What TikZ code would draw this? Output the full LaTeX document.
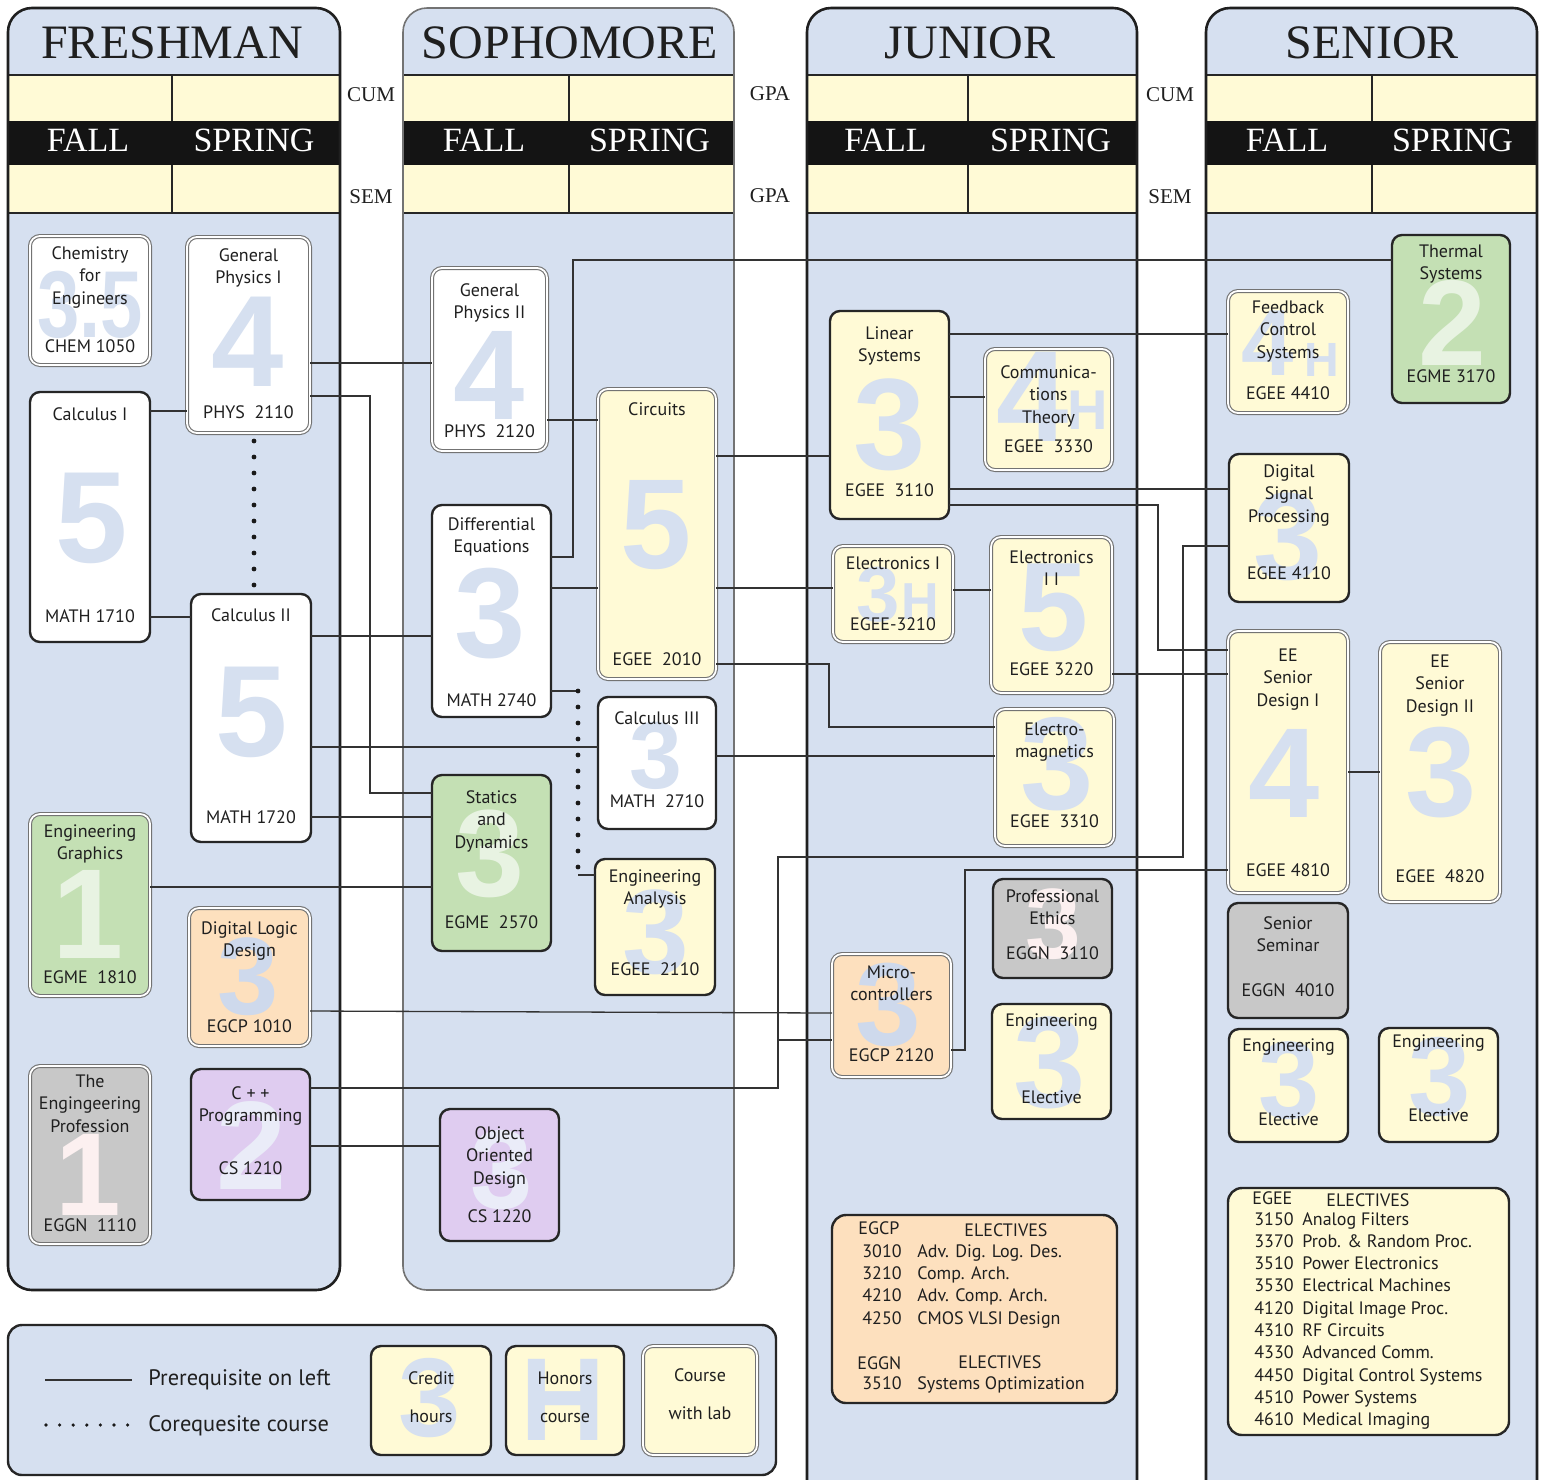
\documentclass[tikz,border=0pt]{standalone}
\usepackage{fontspec}
\setmainfont{Liberation Serif}
\setsansfont{PT Sans}
\newfontfamily\numfont{Liberation Sans}
\usetikzlibrary{fit,calc}
\definecolor{cblue}{RGB}{214,224,240}
\definecolor{cyel}{RGB}{255,250,214}
\definecolor{cgreen}{RGB}{196,224,180}
\definecolor{corange}{RGB}{253,224,190}
\definecolor{cgray}{RGB}{200,200,200}
\definecolor{cpurple}{RGB}{223,204,240}
\definecolor{numgreen}{RGB}{232,243,226}
\definecolor{numpink}{RGB}{252,240,240}
\definecolor{numpurp}{RGB}{234,236,248}
\definecolor{numblueo}{RGB}{206,217,236}
\newcommand\crsfont{\sffamily\fontsize{9}{11.3}\selectfont}
\tikzset{
  sgl/.style={draw=black!85, line width=1.2pt, rounded corners=5pt, inner sep=0pt, outer sep=0pt},
  lab/.style={draw=black!55, line width=0.55pt, double=white, double distance=0.9pt, rounded corners=5pt, inner sep=0pt, outer sep=0pt},
  ttl/.style={font=\crsfont, align=center, inner sep=0pt, anchor=north, yshift=5pt, text=black!88},
  cd/.style={font=\crsfont, inner sep=0pt, anchor=base, yshift=-3pt, text=black!88},
  elt/.style={font=\crsfont, inner sep=0pt, anchor=base west, text=black!88},
  legt/.style={font=\sffamily\fontsize{11.2}{12.5}\selectfont, inner sep=0pt, anchor=base west, text=black!88},
  big/.style={inner sep=0pt, font=\numfont\bfseries\fontsize{#1}{#1}\selectfont},
  pre/.style={draw=black!80, line width=0.65pt},
  coreq/.style={draw=black!90, line width=2.4pt, line cap=round, dash pattern=on 0pt off 8pt},
  yhead/.style={font=\rmfamily\fontsize{24}{24}\selectfont, inner sep=0pt, anchor=base, text=black!88},
  semhead/.style={font=\rmfamily\fontsize{17}{17}\selectfont, inner sep=0pt, anchor=base, text=white},
  sidet/.style={font=\rmfamily\fontsize{10.5}{10.5}\selectfont, inner sep=0pt, anchor=base, text=black!88},
  yb/.style={draw=black!88, line width=1.3pt},
  yblight/.style={draw=black!55, line width=0.8pt},
}
\newcommand\yearpanel[8]{%
  \fill[cblue, rounded corners=12pt] (#2,8) rectangle (#3,#5);
  \fill[cyel] (#2,75) rectangle (#3,213);
  \fill[black!92] (#2,121) rectangle (#3,165);
  \draw[line width=1pt, black!85] (#2,75) -- (#3,75) (#2,213) -- (#3,213) (#4,75) -- (#4,121) (#4,165) -- (#4,213);
  \draw[#6, rounded corners=12pt] (#2,8) rectangle (#3,#5);
  \node[yhead] (#1title) at (#8,58) {#7};
  \node[semhead] (#1fall) at ({(#2+#4)/2-2},151) {FALL};
  \node[semhead] (#1spring) at ({(#4+#3)/2-2},151) {SPRING};
}
\newcommand\cbox[5]{\node[#4, fill=#5, fit={(#2)(#3)}] (#1) {};}
\newcommand\cnum[5]{\node[big=#3, text=#4] (#1n) at (#2) {#5};}
\newcommand\ctitle[3]{\node[ttl] (#1t) at (#1.center |- 0,#2) {\strut #3};}
\newcommand\ccode[3]{\node[cd] (#1c) at (#1.center |- 0,#2) {#3};}
\begin{document}
\begin{tikzpicture}[x=0.5pt,y=-0.5pt]
\useasboundingbox (0,0) rectangle (1541,1479);
\clip (0,0) rectangle (1541,1479);
\fill[white] (0,0) rectangle (1541,1479);

% year panels
\yearpanel{fr}{8}{340}{172}{1290}{yb}{FRESHMAN}{172}
\yearpanel{so}{403}{734}{569}{1290}{yblight}{SOPHOMORE}{570}
\yearpanel{ju}{807}{1137}{968}{1530}{yb}{JUNIOR}{970}
\yearpanel{se}{1206}{1537}{1372}{1530}{yb}{SENIOR}{1372}

\node[sidet] (cum1) at (371,101) {CUM};
\node[sidet] (sem1) at (371,203) {SEM};
\node[sidet] (gpa1) at (770,100) {GPA};
\node[sidet] (gpa2) at (770,202) {GPA};
\node[sidet] (cum2) at (1170,101) {CUM};
\node[sidet] (sem2) at (1170,203) {SEM};

% ---------- Freshman
\cbox{chem}{30,236}{150,365}{lab}{white}
\cnum{chem}{90,305}{47.5}{cblue}{\scalebox{.8}[1]{3.5}}
\ctitle{chem}{253}{Chemistry\\for\\Engineers}
\ccode{chem}{346}{CHEM 1050}

\cbox{phys1}{187,237}{310,433}{lab}{white}
\cnum{phys1}{248,342}{65}{cblue}{4}
\ctitle{phys1}{255}{General\\Physics I}
\ccode{phys1}{412}{PHYS\ \ 2110}

\cbox{calc1}{30,392}{150,642}{sgl}{white}
\cnum{calc1}{92,518}{65}{cblue}{5}
\ctitle{calc1}{414}{Calculus I}
\ccode{calc1}{616}{MATH 1710}

\cbox{calc2}{191,594}{311,842}{sgl}{white}
\cnum{calc2}{252,712}{65}{cblue}{5}
\ctitle{calc2}{615}{Calculus II}
\ccode{calc2}{817}{MATH 1720}

\cbox{graph}{30,814}{150,996}{lab}{cgreen}
\cnum{graph}{88,914}{64}{numgreen}{1}
\ctitle{graph}{831}{Engineering\\Graphics}
\ccode{graph}{977}{EGME\ \ 1810}

\cbox{dld}{189,908}{310,1046}{lab}{corange}
\cnum{dld}{248,977}{55}{numblueo}{3}
\ctitle{dld}{928}{Digital Logic\\Design}
\ccode{dld}{1026}{EGCP 1010}

\cbox{prof1}{30,1066}{150,1244}{lab}{cgray}
\cnum{prof1}{88,1175}{59}{numpink}{1}
\ctitle{prof1}{1081}{The\\Engingeering\\Profession}
\ccode{prof1}{1225}{EGGN\ \ 1110}

\cbox{cpp}{191,1069}{310,1200}{sgl}{cpurple}
\cnum{cpp}{252,1145}{63}{numpurp}{2}
\ctitle{cpp}{1093}{C + +\\Programming}
\ccode{cpp}{1168}{CS 1210}

% ---------- Sophomore
\cbox{phys2}{432,268}{547,451}{lab}{white}
\cnum{phys2}{489,375}{64}{cblue}{4}
\ctitle{phys2}{290}{General\\Physics II}
\ccode{phys2}{431}{PHYS\ \ 2120}

\cbox{diffeq}{432,505}{551,717}{sgl}{white}
\cnum{diffeq}{490,614}{64}{cblue}{3}
\ctitle{diffeq}{524}{Differential\\Equations}
\ccode{diffeq}{700}{MATH 2740}

\cbox{circ}{598,389}{716,679}{lab}{cyel}
\cnum{circ}{656,525}{64}{cblue}{5}
\ctitle{circ}{409}{Circuits}
\ccode{circ}{659}{EGEE\ \ 2010}

\cbox{calc3}{598,697}{716,829}{sgl}{white}
\cnum{calc3}{656,756}{47.5}{cblue}{3}
\ctitle{calc3}{718}{Calculus III}
\ccode{calc3}{801}{MATH\ \ 2710}

\cbox{stat}{432,775}{551,951}{sgl}{cgreen}
\cnum{stat}{490,854}{62}{numgreen}{3}
\ctitle{stat}{797}{Statics\\and\\Dynamics}
\ccode{stat}{922}{EGME\ \ 2570}

\cbox{ea}{595,859}{715,995}{sgl}{cyel}
\cnum{ea}{656,932}{60}{cblue}{3}
\ctitle{ea}{876}{Engineering\\Analysis}
\ccode{ea}{969}{EGEE\ \ 2110}

\cbox{ood}{440,1109}{559,1241}{sgl}{cpurple}
\cnum{ood}{502,1170}{56}{numpurp}{3}
\ctitle{ood}{1133}{Object\\Oriented\\Design}
\ccode{ood}{1216}{CS 1220}

% ---------- Junior
\cbox{lin}{830,311}{949,519}{sgl}{cyel}
\cnum{lin}{890,425}{65}{cblue}{3}
\ctitle{lin}{333}{Linear\\Systems}
\ccode{lin}{490}{EGEE\ \ 3110}

\cbox{comm}{985,349}{1112,470}{lab}{cyel}
\cnum{comm}{1033,397}{65}{cblue}{4}
\node[big=28, text=cblue] (commh) at (1088,410) {H};
\ctitle{comm}{372}{Communica-\\tions\\Theory}
\ccode{comm}{446}{EGEE\ \ 3330}

\cbox{el1}{833,546}{953,642}{lab}{cyel}
\cnum{el1}{878,595}{39}{cblue}{3}
\node[big=26, text=cblue] (el1h) at (920,602) {H};
\ctitle{el1}{563}{Electronics I}
\ccode{el1}{624}{EGEE-3210}

\cbox{el2}{991,537}{1112,693}{lab}{cyel}
\cnum{el2}{1054,608}{63}{cblue}{5}
\ctitle{el2}{557}{Electronics\\I I}
\ccode{el2}{669}{EGEE 3220}

\cbox{em}{995,709}{1114,846}{lab}{cyel}
\cnum{em}{1057,764}{66}{cblue}{3}
\ctitle{em}{729}{Electro-\\magnetics}
\ccode{em}{821}{EGEE\ \ 3310}

\cbox{ethics}{993,879}{1112,978}{sgl}{cgray}
\cnum{ethics}{1053,924}{50}{numpink}{3}
\ctitle{ethics}{896}{Professional\\Ethics}
\ccode{ethics}{953}{EGGN\ \ 3110}

\cbox{micro}{832,954}{951,1077}{lab}{corange}
\cnum{micro}{888,1005}{59}{numblueo}{3}
\ctitle{micro}{972}{Micro-\\controllers}
\ccode{micro}{1055}{EGCP 2120}

\cbox{jelec}{992,1004}{1111,1119}{sgl}{cyel}
\cnum{jelec}{1050,1063}{65}{cblue}{3}
\ctitle{jelec}{1020}{Engineering}
\ccode{jelec}{1097}{Elective}

% ---------- Senior
\cbox{thermal}{1392,235}{1510,403}{sgl}{cgreen}
\cnum{thermal}{1452,323}{61}{numgreen}{2}
\ctitle{thermal}{251}{Thermal\\Systems}
\ccode{thermal}{376}{EGME 3170}

\cbox{fb}{1228,291}{1348,413}{lab}{cyel}
\cnum{fb}{1268,343}{47}{cblue}{4}
\node[big=24, text=cblue] (fbh) at (1322,360) {H};
\ctitle{fb}{307}{Feedback\\Control\\Systems}
\ccode{fb}{393}{EGEE 4410}

\cbox{dsp}{1229,454}{1349,602}{sgl}{cyel}
\cnum{dsp}{1288,537}{62}{cblue}{3}
\ctitle{dsp}{471}{Digital\\Signal\\Processing}
\ccode{dsp}{573}{EGEE 4110}

\cbox{sd1}{1228,631}{1348,893}{lab}{cyel}
\cnum{sd1}{1284,773}{64}{cblue}{4}
\ctitle{sd1}{655}{EE\\Senior\\Design I}
\ccode{sd1}{870}{EGEE 4810}

\cbox{sd2}{1380,642}{1500,902}{lab}{cyel}
\cnum{sd2}{1441,773}{64}{cblue}{3}
\ctitle{sd2}{661}{EE\\Senior\\Design II}
\ccode{sd2}{876}{EGEE\ \ 4820}

\cbox{sem}{1228,903}{1348,1018}{sgl}{cgray}
\ctitle{sem}{923}{Senior\\Seminar}
\ccode{sem}{990}{EGGN\ \ 4010}

\cbox{selec1}{1229,1029}{1348,1142}{sgl}{cyel}
\cnum{selec1}{1289,1081}{55}{cblue}{3}
\ctitle{selec1}{1045}{Engineering}
\ccode{selec1}{1119}{Elective}

\cbox{selec2}{1379,1028}{1498,1142}{sgl}{cyel}
\cnum{selec2}{1440,1077}{56}{cblue}{3}
\ctitle{selec2}{1041}{Engineering}
\ccode{selec2}{1115}{Elective}

% ---------- Electives boxes
\node[sgl, rounded corners=7pt, fill=corange, fit={(832,1215)(1117,1403)}] (egcpel) {};
\node[elt] (gcph) at (858,1234) {EGCP};
\node[elt, anchor=base] (gcpe) at (1006,1236) {ELECTIVES};
\foreach \n/\t [count=\i] in {3010/Adv. Dig. Log. Des., 3210/Comp. Arch., 4210/Adv. Comp. Arch., 4250/CMOS VLSI Design}{
  \node[elt] (gcpa\i) at (862,{1257+22.4*(\i-1)}) {\n};
  \node[elt] (gcpb\i) at (917,{1257+22.4*(\i-1)}) {\t};
}
\node[elt] (ggnh) at (857,1369) {EGGN};
\node[elt, anchor=base] (ggne) at (1000,1368) {ELECTIVES};
\node[elt] (ggna) at (862,1389) {3510};
\node[elt] (ggnb) at (917,1389) {Systems Optimization};

\node[sgl, rounded corners=7pt, fill=cyel, fit={(1228,1188)(1509,1435)}] (egeeel) {};
\node[elt] (geeh) at (1252,1204) {EGEE};
\node[elt] (geee) at (1326,1206) {ELECTIVES};
\foreach \n/\t [count=\i] in {3150/Analog Filters, 3370/Prob. \& Random Proc., 3510/Power Electronics, 3530/Electrical Machines, 4120/Digital Image Proc., 4310/RF Circuits, 4330/Advanced Comm., 4450/Digital Control Systems, 4510/Power Systems, 4610/Medical Imaging}{
  \node[elt] (geea\i) at (1254,{1225+22.3*(\i-1)}) {\n};
  \node[elt] (geeb\i) at (1302,{1225+22.3*(\i-1)}) {\t};
}

% ---------- Legend
\node[sgl, rounded corners=7pt, fill=cblue, fit={(8,1325)(776,1475)}] (leg) {};
\coordinate (l1a) at (45,1380);
\coordinate (l1b) at (132,1380);
\coordinate (l2a) at (46,1425);
\coordinate (l2b) at (128,1425);
\draw[pre] (l1a) -- (l1b);
\draw[draw=black!90, line width=1.8pt, line cap=round, dash pattern=on 0pt off 6.8pt] (l2a) -- (l2b);
\node[legt] (legpre) at (148,1385) {Prerequisite on left};
\node[legt] (legco) at (148,1431) {Corequesite course};

\cbox{credit}{371,1346}{491,1455}{sgl}{cyel}
\cnum{credit}{430,1398}{56}{cblue}{3}
\ctitle{credit}{1378}{Credit}
\ccode{credit}{1416}{hours}

\cbox{honors}{506,1346}{624,1455}{sgl}{cyel}
\cnum{honors}{563,1400}{59}{cblue}{H}
\ctitle{honors}{1378}{Honors}
\ccode{honors}{1416}{course}

\cbox{labbox}{643,1346}{757,1455}{lab}{cyel}
\ctitle{labbox}{1375}{Course}
\ccode{labbox}{1413}{with lab}

% ---------- Prerequisite connectors
\draw[pre] (calc1.east |- 0,411) -- (phys1.west |- 0,411);
\draw[pre] (calc1.east |- 0,617) -- (calc2.west |- 0,617);
\draw[pre] (phys1.east |- 0,363) -- (phys2.west |- 0,363);
\draw[pre] (phys1.east |- 0,396) -- (370,396) -- (370,793) -- (stat.west |- 0,793);
\draw[pre] (calc2.east |- 0,636) -- (diffeq.west |- 0,636);
\draw[pre] (calc2.east |- 0,747) -- (calc3.west |- 0,747);
\draw[pre] (calc2.east |- 0,817) -- (stat.west |- 0,817);
\draw[pre] (graph.east |- 0,887) -- (stat.west |- 0,887);
\draw[pre] (dld.east |- 0,1011) -- (micro.west |- 0,1013);
\draw[pre] (cpp.east |- 0,1088) -- (778,1088) -- (778,857) -- (1183,857) -- (1183,546) -- (dsp.west |- 0,546);
\draw[pre] (778,1040) -- (micro.west |- 0,1040);
\draw[pre] (cpp.east |- 0,1146) -- (ood.west |- 0,1146);
\draw[pre] (phys2.east |- 0,420) -- (circ.west |- 0,420);
\draw[pre] (diffeq.east |- 0,557) -- (573,557) -- (573,260) -- (thermal.west |- 0,260);
\draw[pre] (diffeq.east |- 0,588) -- (circ.west |- 0,588);
\draw[pre] (circ.east |- 0,456) -- (lin.west |- 0,456);
\draw[pre] (circ.east |- 0,588) -- (el1.west |- 0,588);
\draw[pre] (circ.east |- 0,664) -- (829,664) -- (829,727) -- (em.west |- 0,727);
\draw[pre] (calc3.east |- 0,756) -- (em.west |- 0,756);
\draw[pre] (lin.east |- 0,334) -- (fb.west |- 0,334);
\draw[pre] (lin.east |- 0,397) -- (comm.west |- 0,397);
\draw[pre] (lin.east |- 0,489) -- (dsp.west |- 0,489);
\draw[pre] (lin.east |- 0,505) -- (1158,505) -- (1158,650) -- (sd1.west |- 0,650);
\draw[pre] (el1.east |- 0,590) -- (el2.west |- 0,590);
\draw[pre] (el2.east |- 0,674) -- (sd1.west |- 0,674);
\draw[pre] (micro.east |- 0,1050) -- (965,1050) -- (965,870) -- (sd1.west |- 0,870);
\draw[pre] (sd1.east |- 0,772) -- (sd2.west |- 0,772);

% ---------- Corequisites
\draw[coreq] (254,0 |- phys1.south) ++(0,8) -- (254,586);
\draw[pre] (diffeq.east |- 0,691) -- (578,691);
\draw[coreq] (578,691) -- (578,876);
\draw[pre] (578,875) -- (ea.west |- 0,875);
\end{tikzpicture}
\end{document}
